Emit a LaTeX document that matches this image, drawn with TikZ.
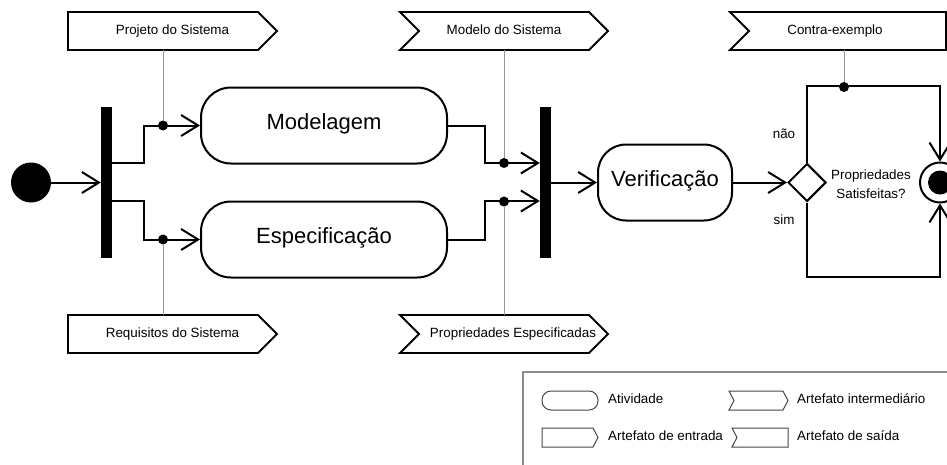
\documentclass[tikz,border=0pt]{standalone}
\usepackage{fontspec}
\setmainfont{Liberation Sans}
\usetikzlibrary{arrows.meta,shapes.geometric}

\definecolor{linkgray}{RGB}{150,150,150}
\definecolor{framegray}{RGB}{140,140,140}
\definecolor{legendline}{RGB}{70,70,70}

\tikzset{
  flow/.style={line width=2pt, draw=black},
  arr/.style={flow, -{Straight Barb[length=17pt,width=21pt,line width=2pt]}},
  link/.style={line width=1pt, draw=linkgray},
  artifact/.style={line width=1.8pt, draw=black, line join=miter},
  smalltext/.style={font=\fontsize{13.4}{16}\selectfont, inner sep=0pt, text height=0.716em, text depth=0pt},
  activity/.style={draw, line width=2pt, rounded corners=30pt, minimum height=76pt,
    inner sep=0pt, font=\fontsize{22}{26}\selectfont, text height=0.716em, text depth=0pt},
  forkbar/.style={fill=black, draw=none, minimum width=11pt, minimum height=151pt, inner sep=0pt},
  dot/.style={circle, fill=black, minimum size=10pt, inner sep=0pt},
  decision/.style={diamond, draw, line width=2pt, minimum width=38pt, minimum height=38pt, inner sep=0pt},
  legendshape/.style={line width=1pt, draw=legendline},
  legendframe/.style={line width=1.5pt, draw=framegray},
}

\begin{document}
\begin{tikzpicture}[x=1pt,y=-1pt]
\useasboundingbox (0,0) rectangle (947,464);
\clip (0,0) rectangle (947,464);

% ---- activity flow ----
\node[circle, fill=black, minimum size=40pt, inner sep=0pt] (init) at (31,182.5) {};
\node[forkbar] (bar1) at (106.5,182.5) {};
\node[activity, minimum width=246pt] (mod)  at (324,125.5) {Modelagem};
\node[activity, minimum width=246pt] (spec) at (324,239.5) {Especificação};
\node[forkbar] (bar2) at (545.5,182.5) {};
\node[activity, minimum width=134pt, rounded corners=28pt] (ver) at (665,182.5) {Verificação};
\node[decision] (dec) at (807,182.5) {};
\node[circle, draw, line width=2pt, minimum size=40pt, inner sep=0pt] (fim) at (940,182.5) {};
\fill (fim.center) circle (12pt);

\draw[arr] (init) -- (bar1);
\draw[arr] ([yshift=19.5pt]bar1.east) -- ++(32,0) |- (mod.west);
\draw[arr] ([yshift=-18.5pt]bar1.east) -- ++(32,0) |- (spec.west);
\draw[arr] (mod.east) -- ++(37,0) |- ([yshift=19.5pt]bar2.west);
\draw[arr] (spec.east) -- ++(37,0) |- ([yshift=-18.5pt]bar2.west);
\draw[arr] (bar2) -- (ver);
\draw[arr] (ver) -- (dec);
\draw[arr] (dec.north) -- ++(0,-76.5) -| (fim.north);
\draw[arr] (dec.south) -- ++(0,74.5) -| (fim.south);

% object-flow pins
\node[dot] (p1) at (163,125.5) {};
\node[dot] (p2) at (163,239.5) {};
\node[dot] (p3) at (504,163) {};
\node[dot] (p4) at (504,201.5) {};
\node[dot] (p5) at (844,87) {};

\node[font=\fontsize{13.4}{16}\selectfont, inner sep=0pt, anchor=base] (nao) at (784,138) {não};
\node[font=\fontsize{13.4}{16}\selectfont, inner sep=0pt, anchor=base] (sim) at (784,224) {sim};
\node[font=\fontsize{13.4}{19}\selectfont, inner sep=0pt, align=center] (cond) at (871,184.6) {Propriedades\\Satisfeitas?};

% ---- artifacts ----
% input artifacts
\draw[artifact] (68,12) -- (258,12) -- (277,31) -- (258,50) -- (68,50) -- cycle;
\node[smalltext] (projeto) at (172.5,31) {Projeto do Sistema};
\coordinate (projeto-b) at (163,50);
\draw[artifact] (68,315) -- (258,315) -- (277,334) -- (258,353) -- (68,353) -- cycle;
\node[smalltext] (requisitos) at (172.5,334) {Requisitos do Sistema};
\coordinate (requisitos-t) at (163,315);
% intermediate artifacts
\draw[artifact] (400,12) -- (589,12) -- (608,31) -- (589,50) -- (400,50) -- (419,31) -- cycle;
\node[smalltext] (modelo) at (504,31) {Modelo do Sistema};
\coordinate (modelo-b) at (504,50);
\draw[artifact] (400,315) -- (589,315) -- (608,334) -- (589,353) -- (400,353) -- (419,334) -- cycle;
\node[smalltext] (props) at (513,334) {Propriedades Especificadas};
\coordinate (props-t) at (504,315);
% output artifact
\draw[artifact] (730,12) -- (946,12) -- (946,50) -- (730,50) -- (749,31) -- cycle;
\node[smalltext] (contra) at (835,31) {Contra-exemplo};
\coordinate (contra-b) at (844,50);

\draw[link] (projeto-b) -- (p1);
\draw[link] (requisitos-t) -- (p2);
\draw[link] (modelo-b) -- (p3);
\draw[link] (props-t) -- (p4);
\draw[link] (contra-b) -- (p5);

% ---- legend ----
\draw[legendframe] (523,372) rectangle (990,500);
\draw[legendshape, rounded corners=9pt] (542,391) rectangle (598,410);
\node[smalltext, anchor=west] (l1) at (608,400) {Atividade};
\draw[legendshape] (729,391) -- (783,391) -- (788,400.5) -- (783,410) -- (729,410) -- (734,400.5) -- cycle;
\node[smalltext, anchor=west] (l2) at (797,400) {Artefato intermediário};
\draw[legendshape] (542,428) -- (593,428) -- (598,437.5) -- (593,447) -- (542,447) -- cycle;
\node[smalltext, anchor=west] (l3) at (608,437) {Artefato de entrada};
\draw[legendshape] (732,428) -- (788,428) -- (788,447) -- (732,447) -- (737,437.5) -- cycle;
\node[smalltext, anchor=west] (l4) at (797,437) {Artefato de saída};
\end{tikzpicture}
\end{document}
